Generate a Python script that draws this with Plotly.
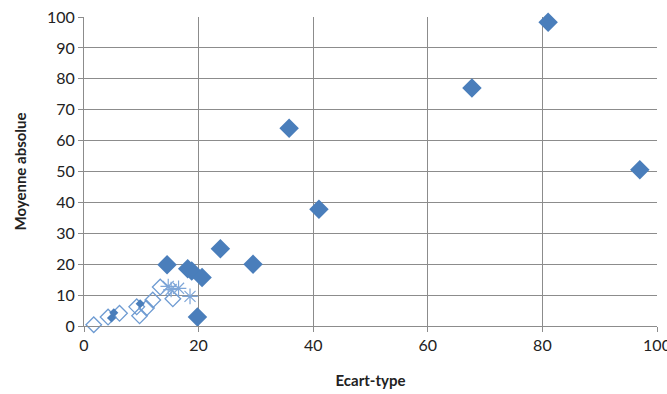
import plotly.graph_objects as go

# Series 1: filled diamonds
s1_x = [81, 67.7, 97, 35.8, 41, 23.8, 29.5, 14.5, 18.1, 18.8, 20.6, 19.8, 4.8, 5.2, 9.8]
s1_y = [98.3, 77, 50.6, 64, 37.8, 25, 20, 19.8, 18.5, 17.8, 15.7, 2.9, 2.6, 4.3, 7.2]

# Series 2: open diamonds
s2_x = [1.7, 4.2, 6.2, 9.2, 9.7, 10.9, 12.0, 13.3, 15.5]
s2_y = [0.4, 2.9, 4.1, 6.2, 3.3, 5.8, 8.4, 12.6, 8.8]

# Series 3: asterisks
s3_x = [14.7, 15.2, 16.5, 18.5]
s3_y = [12.8, 11.8, 12.2, 9.6]

x_ticks = [0, 20, 40, 60, 80, 100]
y_ticks = [0, 10, 20, 30, 40, 50, 60, 70, 80, 90, 100]

fig = go.Figure()
fig.add_trace(go.Scatter(x=s2_x, y=s2_y, mode="markers", cliponaxis=False,
                         marker=dict(symbol="diamond-open", size=12, color="#6E9BD2",
                                     line=dict(width=1.3, color="#6E9BD2"))))
fig.add_trace(go.Scatter(x=s3_x, y=s3_y, mode="markers", cliponaxis=False,
                         marker=dict(symbol="asterisk-open", size=13, color="#7EA6D8",
                                     line=dict(width=1.2, color="#7EA6D8"))))
fig.add_trace(go.Scatter(x=s1_x[:12], y=s1_y[:12], mode="markers", cliponaxis=False,
                         marker=dict(symbol="diamond", size=15, color="#4A7EBB",
                                     line=dict(width=0))))
fig.add_trace(go.Scatter(x=s1_x[12:], y=s1_y[12:], mode="markers", cliponaxis=False,
                         marker=dict(symbol="diamond", size=7, color="#4A7EBB",
                                     line=dict(width=0))))

fam = "Lato, Liberation Sans, sans-serif"
axis_font = dict(family=fam, size=16, color="#222222")
title_font = dict(family=fam, size=15, color="#222222")
fig.update_layout(
    width=667, height=394,
    margin=dict(l=84, r=10, t=17, b=68),
    paper_bgcolor="white", plot_bgcolor="white",
    showlegend=False,
    xaxis=dict(range=[0, 100], tickvals=x_ticks, ticktext=[str(v) for v in x_ticks],
               showgrid=True, gridcolor="#8C8C8C", gridwidth=1,
               showline=True, linecolor="#8C8C8C", linewidth=1,
               ticks="outside", ticklen=5, tickcolor="#8C8C8C",
               zeroline=False, tickfont=axis_font, automargin=False,
               ticklabeloverflow="allow",
               title=dict(text="<b>Ecart-type</b>", standoff=22, font=title_font)),
    yaxis=dict(range=[0, 100], tickvals=y_ticks, ticktext=[str(v) for v in y_ticks],
               showgrid=True, gridcolor="#8C8C8C", gridwidth=1,
               showline=True, linecolor="#8C8C8C", linewidth=1,
               ticks="outside", ticklen=5, tickcolor="#8C8C8C",
               zeroline=False, tickfont=axis_font, automargin=False,
               ticklabeloverflow="allow",
               title=dict(text="<b>Moyenne absolue</b>", standoff=16, font=title_font)),
)
fig.write_html("out.html", config={"displayModeBar": False},
               post_script="document.body.style.margin='0';document.body.style.overflow='hidden';")
